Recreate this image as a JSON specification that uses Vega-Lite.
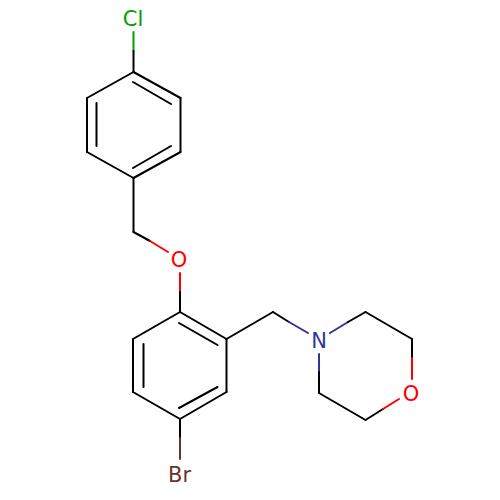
{
  "$schema": "https://vega.github.io/schema/vega-lite/v6.json",
  "description": "Skeletal formula of 4-[[5-bromo-2-[(4-chlorophenyl)methoxy]phenyl]methyl]morpholine.",
  "autosize": {"type": "fit", "contains": "padding"},
  "padding": 0,
  "width": 500,
  "height": 500,
  "background": "white",
  "view": {"stroke": null},
  "datasets": {
    "bonds": [
      {"x": 133.5, "y": 32, "x2": 133.5, "y2": 51, "element": "Cl"},
      {"x": 133.5, "y": 51, "x2": 133.5, "y2": 72, "element": "C"},
      {"x": 133.5, "y": 72, "x2": 180.5, "y2": 98, "element": "C"},
      {"x": 133, "y": 82, "x2": 171, "y2": 104, "element": "C"},
      {"x": 180.5, "y": 98, "x2": 180.5, "y2": 152, "element": "C"},
      {"x": 180.5, "y": 152, "x2": 133.5, "y2": 178, "element": "C"},
      {"x": 171, "y": 146, "x2": 133, "y2": 168, "element": "C"},
      {"x": 133.5, "y": 178, "x2": 87, "y2": 152, "element": "C"},
      {"x": 87, "y": 152, "x2": 87, "y2": 98, "element": "C"},
      {"x": 96.5, "y": 146, "x2": 96.5, "y2": 103, "element": "C"},
      {"x": 87, "y": 98, "x2": 133.5, "y2": 72, "element": "C"},
      {"x": 133.5, "y": 178, "x2": 133.5, "y2": 232, "element": "C"},
      {"x": 133.5, "y": 232, "x2": 150, "y2": 241, "element": "C"},
      {"x": 150, "y": 241, "x2": 168, "y2": 252, "element": "O"},
      {"x": 180, "y": 273, "x2": 180, "y2": 292, "element": "O"},
      {"x": 180, "y": 292, "x2": 180, "y2": 312, "element": "C"},
      {"x": 180, "y": 312, "x2": 226.5, "y2": 339, "element": "C"},
      {"x": 179, "y": 323, "x2": 217.5, "y2": 345, "element": "C"},
      {"x": 226.5, "y": 339, "x2": 226.5, "y2": 392, "element": "C"},
      {"x": 226.5, "y": 392, "x2": 180, "y2": 419, "element": "C"},
      {"x": 217.5, "y": 387, "x2": 179, "y2": 408, "element": "C"},
      {"x": 180, "y": 419, "x2": 133, "y2": 392, "element": "C"},
      {"x": 133, "y": 392, "x2": 133, "y2": 339, "element": "C"},
      {"x": 143.5, "y": 387, "x2": 143.5, "y2": 344, "element": "C"},
      {"x": 133, "y": 339, "x2": 180, "y2": 312, "element": "C"},
      {"x": 180, "y": 419, "x2": 180, "y2": 438, "element": "C"},
      {"x": 180, "y": 438, "x2": 180, "y2": 459, "element": "Br"},
      {"x": 226.5, "y": 339, "x2": 273, "y2": 312, "element": "C"},
      {"x": 273, "y": 312, "x2": 289, "y2": 322, "element": "C"},
      {"x": 289, "y": 322, "x2": 308, "y2": 333, "element": "N"},
      {"x": 330, "y": 333, "x2": 348, "y2": 322, "element": "N"},
      {"x": 348, "y": 322, "x2": 365.5, "y2": 312, "element": "C"},
      {"x": 365.5, "y": 312, "x2": 412, "y2": 339, "element": "C"},
      {"x": 412, "y": 339, "x2": 412, "y2": 358, "element": "C"},
      {"x": 412, "y": 358, "x2": 412, "y2": 379, "element": "O"},
      {"x": 319, "y": 354, "x2": 319, "y2": 372, "element": "N"},
      {"x": 319, "y": 372, "x2": 319, "y2": 393, "element": "C"},
      {"x": 319, "y": 393, "x2": 365.5, "y2": 420, "element": "C"},
      {"x": 365.5, "y": 420, "x2": 383, "y2": 409, "element": "C"},
      {"x": 383, "y": 409, "x2": 399, "y2": 399, "element": "O"}
    ],
    "atoms": [
      {"x": 133, "y": 20, "label": "Cl", "element": "Cl"},
      {"x": 179, "y": 261, "label": "O", "element": "O"},
      {"x": 179.5, "y": 476, "label": "Br", "element": "Br"},
      {"x": 319, "y": 342, "label": "N", "element": "N"},
      {"x": 411, "y": 395, "label": "O", "element": "O"}
    ]
  },
  "layer": [
    {
      "data": {"name": "bonds"},
      "mark": {"type": "rule", "strokeWidth": 2, "strokeCap": "round"},
      "encoding": {
        "x": {"field": "x", "type": "quantitative", "scale": {"domain": [0, 500], "nice": false, "zero": false}, "axis": null},
        "y": {"field": "y", "type": "quantitative", "scale": {"domain": [500, 0], "nice": false, "zero": false}, "axis": null},
        "x2": {"field": "x2"},
        "y2": {"field": "y2"},
        "color": {
          "field": "element",
          "type": "nominal",
          "legend": null,
          "scale": {"domain": ["C", "Cl", "O", "N", "Br"], "range": ["#000000", "#00a000", "#ff0000", "#333399", "#663333"]}
        }
      }
    },
    {
      "data": {"name": "atoms"},
      "mark": {"type": "text", "font": "DejaVu Sans", "fontSize": 21, "align": "center", "baseline": "middle"},
      "encoding": {
        "x": {"field": "x", "type": "quantitative", "scale": {"domain": [0, 500], "nice": false, "zero": false}, "axis": null},
        "y": {"field": "y", "type": "quantitative", "scale": {"domain": [500, 0], "nice": false, "zero": false}, "axis": null},
        "text": {"field": "label"},
        "color": {
          "field": "element",
          "type": "nominal",
          "legend": null,
          "scale": {"domain": ["C", "Cl", "O", "N", "Br"], "range": ["#000000", "#00a000", "#ff0000", "#333399", "#663333"]}
        }
      }
    }
  ]
}
